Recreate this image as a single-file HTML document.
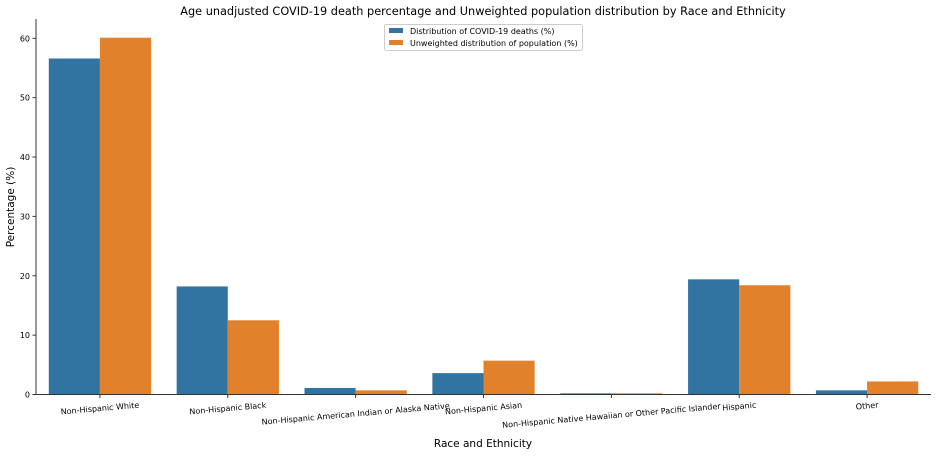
<!DOCTYPE html>
<html><head><meta charset="utf-8"><style>
body{margin:0;background:#fff;font-family:"Liberation Sans","DejaVu Sans",sans-serif}
svg text{font-family:"DejaVu Sans","Liberation Sans",sans-serif}
</style></head><body>
<svg id="chart" width="936" height="454" xmlns="http://www.w3.org/2000/svg">
<text x="483" y="15" text-anchor="middle" font-size="11.3" fill="#000">Age unadjusted COVID-19 death percentage and Unweighted population distribution by Race and Ethnicity</text>
<g id="grid"></g><g id="bars"></g><g id="axes"></g>
<text x="483" y="447" text-anchor="middle" font-size="10.5">Race and Ethnicity</text>
<text transform="translate(14,207) rotate(-90)" text-anchor="middle" font-size="10.5">Percentage (%)</text>
<g>
<rect x="384.5" y="24.5" width="198" height="26" fill="#fff" stroke="#ccc" rx="2"/>
<rect x="389" y="28" width="14" height="5" fill="#3274a1"/>
<text x="410" y="34" font-size="8">Distribution of COVID-19 deaths (%)</text>
<rect x="389" y="40" width="14" height="5" fill="#e1812c"/>
<text x="410" y="46" font-size="8">Unweighted distribution of population (%)</text>
</g>
</svg>
<script>
const categories=["Non-Hispanic White","Non-Hispanic Black","Non-Hispanic American Indian or Alaska Native","Non-Hispanic Asian","Non-Hispanic Native Hawaiian or Other Pacific Islander","Hispanic","Other"];
const deaths=[56.6,18.2,1.1,3.6,0.2,19.4,0.7];
const population=[60.1,12.5,0.7,5.7,0.2,18.4,2.2];
const yTicks=[0,10,20,30,40,50,60];
const NS="http://www.w3.org/2000/svg";
const L=36,R=931,T=19,B=394.5;
const bw=(R-L)/categories.length;
const xc=i=>L+bw*(i+0.5);
const y=v=>B-v*(B-38.3)/60;
function mk(tag,attrs,parent,text){const e=document.createElementNS(NS,tag);for(const k in attrs)e.setAttribute(k,attrs[k]);if(text!==undefined)e.textContent=text;document.getElementById(parent).appendChild(e);return e;}
const series=[[deaths,"#3274a1","deaths"],[population,"#e1812c","population"]];
series.forEach(([vals,col,nm],s)=>{vals.forEach((v,i)=>{
 const x0=xc(i)+(s===0?-0.4*bw:0);
 const r=mk("rect",{x:x0,y:y(v),width:0.4*bw,height:B-y(v),fill:col},"bars");
 
 
});});
const ax=mk("path",{d:`M${L} ${T}V${B}H${R}`,stroke:"#333",fill:"none","stroke-width":1},"axes");


yTicks.forEach(t=>{
 mk("line",{x1:L-3.5,x2:L,y1:y(t),y2:y(t),stroke:"#333"},"axes");
 const tx=mk("text",{x:L-6,y:y(t)+3,"text-anchor":"end","font-size":"8"},"axes",t);
 
 
});
categories.forEach((c,i)=>{
 mk("line",{x1:xc(i),x2:xc(i),y1:B,y2:B+3.5,stroke:"#333"},"axes");
 const w=c.length*4.6;
 const cy=B+10+w*Math.sin(5*Math.PI/180)/2;
 const tx=mk("text",{x:xc(i),y:cy+3,"text-anchor":"middle","font-size":"8",transform:`rotate(-5 ${xc(i)} ${cy})`},"axes",c);
 
 
});
</script>
</body></html>
